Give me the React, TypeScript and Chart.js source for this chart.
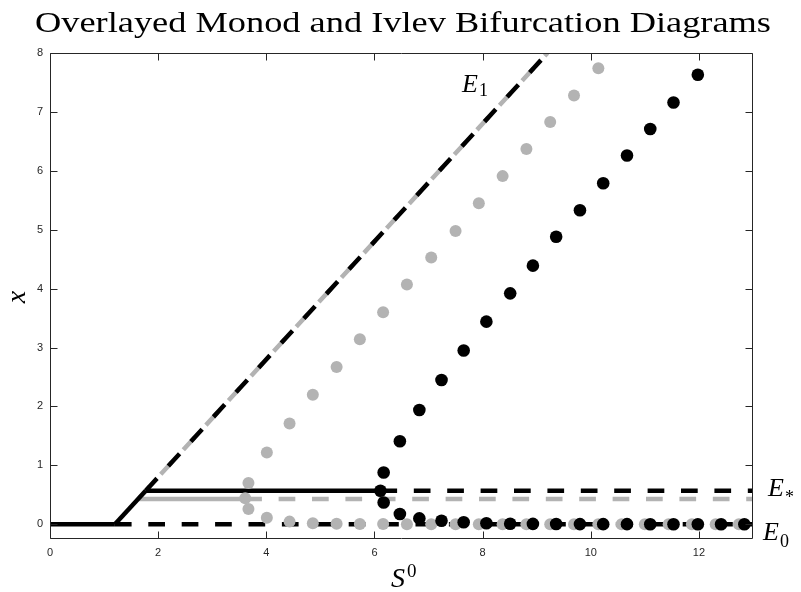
import { useEffect, useRef } from "react";
import { Chart, registerables } from "chart.js";

Chart.register(...registerables);

// ---- axis ticks ----
const xTicks = [0, 2, 4, 6, 8, 10, 12];
const yTicks = [0, 1, 2, 3, 4, 5, 6, 7, 8];

// ---- Monod (black) equilibria ----
const monodE0SolidS = [0, 1.2];
const monodE0SolidX = [0, 0];
const monodE0DashS = [1.2, 13];
const monodE0DashX = [0, 0];
const monodE1SolidS = [1.2, 1.77];
const monodE1SolidX = [0, 0.57];
const monodE1DashS = [1.77, 9.2];
const monodE1DashX = [0.57, 8.0];
const monodEsSolidS = [1.77, 6.11];
const monodEsSolidX = [0.57, 0.57];
const monodEsDashS = [6.11, 13];
const monodEsDashX = [0.57, 0.57];

// ---- Ivlev (grey) equilibria ----
const ivlevE1DashS = [1.63, 9.2];
const ivlevE1DashX = [0.43, 8.0];
const ivlevEsSolidS = [1.63, 3.61];
const ivlevEsSolidX = [0.43, 0.43];
const ivlevEsDashS = [3.61, 13];
const ivlevEsDashX = [0.43, 0.43];

// ---- Monod periodic orbit (black dots) ----
const monodHopfS = [6.11];
const monodHopfX = [0.57];
const monodMaxS = [6.17, 6.47, 6.83, 7.24, 7.65, 8.07, 8.51, 8.93, 9.36, 9.8, 10.23, 10.67, 11.1, 11.53, 11.98];
const monodMaxX = [0.88, 1.41, 1.94, 2.45, 2.95, 3.44, 3.92, 4.39, 4.88, 5.33, 5.79, 6.26, 6.71, 7.16, 7.63];
const monodMinS = [6.17, 6.47, 6.83, 7.24, 7.65, 8.07, 8.51, 8.93, 9.36, 9.8, 10.23, 10.67, 11.1, 11.53, 11.98, 12.41, 12.84];
const monodMinX = [0.37, 0.175, 0.1, 0.06, 0.034, 0.017, 0.01, 0.006, 0.004, 0.003, 0.002, 0.002, 0.001, 0.001, 0.001, 0.001, 0.001];

// ---- Ivlev periodic orbit (grey dots) ----
const ivlevHopfS = [3.61];
const ivlevHopfX = [0.44];
const ivlevMaxS = [3.67, 4.01, 4.43, 4.86, 5.3, 5.73, 6.16, 6.6, 7.05, 7.5, 7.93, 8.37, 8.81, 9.25, 9.69, 10.14];
const ivlevMaxX = [0.7, 1.22, 1.71, 2.2, 2.67, 3.14, 3.6, 4.07, 4.53, 4.98, 5.45, 5.91, 6.37, 6.83, 7.28, 7.74];
const ivlevMinS = [3.67, 4.01, 4.43, 4.86, 5.3, 5.73, 6.16, 6.6, 7.05, 7.5, 7.93, 8.37, 8.81, 9.25, 9.69, 10.14, 10.57, 11.0, 11.44, 11.87, 12.31, 12.74];
const ivlevMinX = [0.26, 0.11, 0.045, 0.018, 0.007, 0.004, 0.003, 0.002, 0.002, 0.001, 0.001, 0.001, 0.001, 0, 0, 0, 0, 0, 0, 0, 0, 0];

const TITLE = "Overlayed Monod and Ivlev Bifurcation Diagrams";
const BLACK = "#000000";
const GREY = "#b3b3b3";
const AXIS = "#262626";

const pts = (s: number[], v: number[]) => s.map((sv, i) => ({ x: sv, y: v[i] }));
const DASH = [16.7, 16.7];

function lineDs(s: number[], v: number[], color: string, dashed: boolean, order: number, offset = 0) {
  return {
    data: pts(s, v),
    showLine: true,
    borderColor: color,
    borderWidth: 4.5,
    borderDash: dashed ? DASH : [],
    borderDashOffset: offset,
    borderCapStyle: "butt",
    pointRadius: 0,
    pointHoverRadius: 0,
    fill: false,
    tension: 0,
    order,
  };
}

function dotDs(s: number[], v: number[], color: string, r: number, order: number) {
  return {
    data: pts(s, v),
    showLine: false,
    pointRadius: r,
    pointHoverRadius: r,
    pointBorderWidth: 0,
    pointBackgroundColor: color,
    pointBorderColor: color,
    order,
  };
}

const annotPlugin = {
  id: "annot",
  afterDraw(chart: any) {
    const { ctx, chartArea: a, scales } = chart;
    const xs = scales.x;
    const ys = scales.y;
    ctx.save();
    // box
    ctx.strokeStyle = AXIS;
    ctx.lineWidth = 1;
    const L = Math.round(a.left) + 0.5;
    const R = Math.round(a.right) - 0.5;
    const T = Math.round(a.top) + 0.5;
    const B = Math.round(a.bottom) - 0.5;
    ctx.beginPath();
    ctx.rect(L, T, R - L, B - T);
    ctx.stroke();
    // inner ticks on all sides
    const tl = 7;
    ctx.beginPath();
    for (const v of xTicks) {
      const px = Math.round(xs.getPixelForValue(v)) + 0.5;
      ctx.moveTo(px, B);
      ctx.lineTo(px, B - tl);
      ctx.moveTo(px, T);
      ctx.lineTo(px, T + tl);
    }
    for (const v of yTicks) {
      const py = Math.round(ys.getPixelForValue(v)) + 0.5;
      ctx.moveTo(L, py);
      ctx.lineTo(L + tl, py);
      ctx.moveTo(R, py);
      ctx.lineTo(R - tl, py);
    }
    ctx.stroke();

    ctx.fillStyle = "#000";
    ctx.textBaseline = "alphabetic";
    ctx.textAlign = "left";
    // title
    ctx.font = '29px "Liberation Serif"';
    const w = ctx.measureText(TITLE).width;
    const sx = 736 / w;
    ctx.save();
    ctx.translate(35, 32);
    ctx.scale(sx, 1);
    ctx.fillText(TITLE, 0, 0);
    ctx.restore();

    // x-axis label S^0
    ctx.font = 'italic 28px "Liberation Serif"';
    ctx.fillText("S", 391, 587);
    ctx.font = '19px "Liberation Serif"';
    ctx.fillText("0", 407, 577);

    // y-axis label x
    ctx.save();
    ctx.translate(25, 297);
    ctx.rotate(-Math.PI / 2);
    ctx.textAlign = "center";
    ctx.font = 'italic 28px "Liberation Serif"';
    ctx.fillText("x", 0, 0);
    ctx.restore();

    const drawE = (sub: string, x: number, base: number, subBase: number) => {
      ctx.font = 'italic 26px "Liberation Serif"';
      ctx.fillText("E", x, base);
      const ew = ctx.measureText("E").width;
      ctx.font = '18px "Liberation Serif"';
      ctx.fillText(sub, x + ew + 1, subBase);
    };
    drawE("1", 462, 92, 96);
    drawE("*", 768, 496, 503);
    drawE("0", 763, 540, 547);
    ctx.restore();
  },
};

export default function App() {
  const ref = useRef<HTMLCanvasElement>(null);
  useEffect(() => {
    document.body.style.margin = "0";
    const datasets: any[] = [
      // grey lines (bottom)
      lineDs(ivlevE1DashS, ivlevE1DashX, GREY, true, 20, 0),
      lineDs(ivlevEsSolidS, ivlevEsSolidX, GREY, false, 20),
      lineDs(ivlevEsDashS, ivlevEsDashX, GREY, true, 20),
      // black lines
      lineDs(monodE0SolidS, monodE0SolidX, BLACK, false, 15),
      lineDs(monodE0DashS, monodE0DashX, BLACK, true, 15),
      lineDs(monodE1SolidS, monodE1SolidX, BLACK, false, 15),
      lineDs(monodE1DashS, monodE1DashX, BLACK, true, 15),
      lineDs(monodEsSolidS, monodEsSolidX, BLACK, false, 15),
      lineDs(monodEsDashS, monodEsDashX, BLACK, true, 15),
      // grey dots
      dotDs(ivlevHopfS, ivlevHopfX, GREY, 6, 10),
      dotDs(ivlevMaxS, ivlevMaxX, GREY, 6, 10),
      dotDs(ivlevMinS, ivlevMinX, GREY, 6, 10),
      // black dots (top)
      dotDs(monodHopfS, monodHopfX, BLACK, 6.3, 5),
      dotDs(monodMaxS, monodMaxX, BLACK, 6.3, 5),
      dotDs(monodMinS, monodMinX, BLACK, 6.3, 5),
    ];
    const chart = new Chart(ref.current as HTMLCanvasElement, {
      type: "scatter",
      data: { datasets },
      options: {
        animation: false,
        responsive: false,
        devicePixelRatio: 1,
        events: [],
        layout: { padding: { top: 53, right: 48, bottom: 0, left: 0 } },
        plugins: { legend: { display: false }, tooltip: { enabled: false }, title: { display: false } },
        scales: {
          x: {
            type: "linear",
            min: 0,
            max: 13,
            grid: { display: false, drawTicks: false },
            border: { display: false },
            afterBuildTicks: (s: any) => {
              s.ticks = xTicks.map((v) => ({ value: v }));
            },
            afterFit: (s: any) => {
              s.height = 53;
            },
            ticks: {
              color: AXIS,
              padding: 7,
              maxRotation: 0,
              font: { family: "Liberation Sans", size: 11 },
            },
          },
          y: {
            type: "linear",
            min: -0.25,
            max: 8,
            grid: { display: false, drawTicks: false },
            border: { display: false },
            afterBuildTicks: (s: any) => {
              s.ticks = yTicks.map((v) => ({ value: v }));
            },
            afterFit: (s: any) => {
              s.width = 50;
            },
            ticks: {
              color: AXIS,
              padding: 7,
              font: { family: "Liberation Sans", size: 11 },
            },
          },
        },
      } as any,
      plugins: [annotPlugin],
    } as any);
    return () => chart.destroy();
  }, []);
  return (
    <div style={{ position: "absolute", left: 0, top: 0, width: 801, height: 592, background: "#fff" }}>
      <canvas ref={ref} width={801} height={592} style={{ display: "block", width: 801, height: 592 }} />
    </div>
  );
}
